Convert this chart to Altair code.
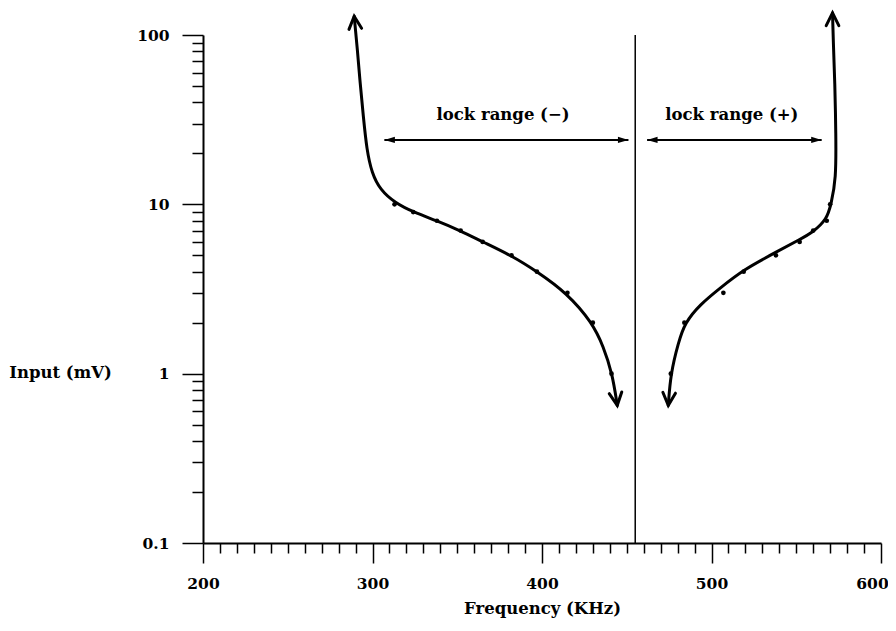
import altair as alt
import pandas as pd

# ---------------- data ----------------
# smooth traced curves (frequency kHz, input mV), from lower arrow tip to upper arrow tip
left_curve_f = [444.4, 441.5, 436.2, 429.7, 414.6, 397.2, 381.7, 365.0, 351.7, 337.9, 324.1, 313.3, 304.5, 299.6, 296.6, 294.6, 292.7, 291.1, 289.2]
left_curve_mv = [0.65, 1.0, 1.45, 2.0, 3.0, 4.0, 5.0, 6.0, 7.0, 8.0, 9.0, 10.2, 12.2, 15.3, 21.0, 33.0, 52.0, 82.0, 129.0]
right_curve_f = [474.5, 475.9, 480.4, 484.3, 493.2, 505.0, 518.7, 537.8, 552.0, 559.6, 568.2, 570.5, 573.5, 573.4, 572.8, 571.8, 571.4]
right_curve_mv = [0.65, 1.0, 1.52, 2.0, 2.56, 3.2, 4.1, 5.2, 6.2, 6.8, 8.2, 10.0, 14.0, 26.0, 52.0, 94.0, 135.0]

# measured points
left_meas_f = [441, 430, 415, 397, 382, 365, 352, 338, 324, 313]
left_meas_mv = [1, 2, 3, 4, 5, 6, 7, 8, 9, 10]
right_meas_f = [476, 484, 507, 519, 538, 552, 560, 568, 570]
right_meas_mv = [1, 2, 3, 4, 5, 6, 7, 8, 10]

# centre frequency marker
center_f = 455

# lock range arrows
lock_names = ["lock range (\u2212)", "lock range (+)"]
lock_start = [307, 462]
lock_end = [451, 565]
lock_arrow_mv = [24, 24]
lock_label_f = [377, 512]
lock_label_mv = [33.5, 33.5]

x_ticks = list(range(200, 601, 10))
y_ticks = [round(k * 10 ** e, 6) for e in (-1, 0, 1) for k in range(1, 10)] + [100]

# ---------------- tables ----------------
curve_df = pd.DataFrame({
    "f": left_curve_f + right_curve_f,
    "mv": left_curve_mv + right_curve_mv,
    "side": ["minus"] * len(left_curve_f) + ["plus"] * len(right_curve_f),
    "i": list(range(len(left_curve_f))) + list(range(len(right_curve_f))),
})
meas_df = pd.DataFrame({
    "f": left_meas_f + right_meas_f,
    "mv": left_meas_mv + right_meas_mv,
})
tips_up = pd.DataFrame({
    "f": [left_curve_f[-1], right_curve_f[-1]],
    "mv": [left_curve_mv[-1], right_curve_mv[-1]],
    "ang": [355, 0],
})
tips_down = pd.DataFrame({
    "f": [left_curve_f[0], right_curve_f[0]],
    "mv": [left_curve_mv[0], right_curve_mv[0]],
    "ang": [352, 4],
})
lock_df = pd.DataFrame({
    "name": lock_names, "f0": lock_start, "f1": lock_end, "mv": lock_arrow_mv,
    "lf": lock_label_f, "lmv": lock_label_mv,
})
center_df = pd.DataFrame({"f": [center_f], "lo": [0.1], "hi": [100]})

FONT = "DejaVu Serif"
xs = alt.Scale(domain=[200, 600], nice=False, zero=False)
ys = alt.Scale(type="log", domain=[0.1, 100], nice=False)

DECADE = "abs(log(datum.value)/LN10 - round(log(datum.value)/LN10)) < 1e-6"

x_axis = alt.Axis(
    values=x_ticks,
    tickSize={"condition": {"test": "datum.value % 100 === 0", "value": 20}, "value": 10},
    labelExpr="datum.value % 100 === 0 ? datum.label : ''",
    labelOffset={"condition": {"test": "datum.value === 600", "value": -9}, "value": 0},
    labelOverlap=False, labelFlush=False,
    labelFont=FONT, labelFontSize=15.5, labelFontWeight="bold", labelColor="black", labelPadding=13,
    domainColor="black", domainWidth=2, tickColor="black", tickWidth=1.5,
    grid=False,
    title="Frequency (KHz)", titleFont=FONT, titleFontSize=16.5, titleFontWeight="bold",
    titleColor="black", titleY=65, titleBaseline="middle",
)
y_axis = alt.Axis(
    values=y_ticks,
    tickSize={"condition": {"test": DECADE, "value": 21}, "value": 11},
    labelExpr=DECADE + " ? format(datum.value, '~g') : ''",
    labelOverlap=False, labelFlush=False,
    labelFont=FONT, labelFontSize=15.5, labelFontWeight="bold", labelColor="black", labelPadding=13,
    domainColor="black", domainWidth=2, tickColor="black", tickWidth=1.5,
    grid=False,
    title="Input (mV)", titleFont=FONT, titleFontSize=16.5, titleFontWeight="bold",
    titleColor="black", titleAngle=0, titleX=-143, titleY=337,
    titleAlign="center", titleBaseline="middle",
)


def X(field):
    return alt.X(field, type="quantitative", scale=xs, axis=x_axis)


def Y(field):
    return alt.Y(field, type="quantitative", scale=ys, axis=y_axis)


curves = alt.Chart(curve_df).mark_line(
    color="black", strokeWidth=3, interpolate="basis", strokeCap="round"
).encode(x=X("f"), y=Y("mv"), detail="side:N", order="i:Q")

dots = alt.Chart(meas_df).mark_circle(color="black", size=22, opacity=1).encode(
    x=X("f"), y=Y("mv"))

head_up = alt.Chart(tips_up).mark_point(
    shape="M -1 2 L 0 0 L 1 2", filled=False, color="black", strokeWidth=3,
    size=160, opacity=1, strokeCap="round", strokeJoin="miter",
).encode(x=X("f"), y=Y("mv"), angle=alt.Angle("ang:Q", scale=None))

head_down = alt.Chart(tips_down).mark_point(
    shape="M -1 -2 L 0 0 L 1 -2", filled=False, color="black", strokeWidth=3,
    size=160, opacity=1, strokeCap="round", strokeJoin="miter",
).encode(x=X("f"), y=Y("mv"), angle=alt.Angle("ang:Q", scale=None))

center_rule = alt.Chart(center_df).mark_rule(color="black", strokeWidth=1.5).encode(
    x=X("f"), y=Y("lo"), y2="hi:Q")

lock_rule = alt.Chart(lock_df).mark_rule(color="black", strokeWidth=2).encode(
    x=X("f0"), x2="f1:Q", y=Y("mv"))

lock_head_r = alt.Chart(lock_df).mark_point(
    shape="M 0 0 L -2 -0.6 L -2 0.6 Z", filled=True, color="black", size=110, opacity=1,
).encode(x=X("f1"), y=Y("mv"))

lock_head_l = alt.Chart(lock_df).mark_point(
    shape="M 0 0 L 2 -0.6 L 2 0.6 Z", filled=True, color="black", size=110, opacity=1,
).encode(x=X("f0"), y=Y("mv"))

lock_text = alt.Chart(lock_df).mark_text(
    font=FONT, fontSize=16.5, fontWeight="bold", color="black", align="center", baseline="middle",
).encode(x=X("lf"), y=Y("lmv"), text="name:N")

chart = alt.layer(
    curves, dots, head_up, head_down, center_rule, lock_rule, lock_head_r, lock_head_l, lock_text
).properties(
    width=678, height=508,
    autosize=alt.AutoSizeParams(type="none"),
    padding={"left": 195, "top": 27, "right": 7, "bottom": 80},
    background="white",
).configure_view(stroke=None)

chart.save("out.html", embed_options={"renderer": "svg", "actions": False})
